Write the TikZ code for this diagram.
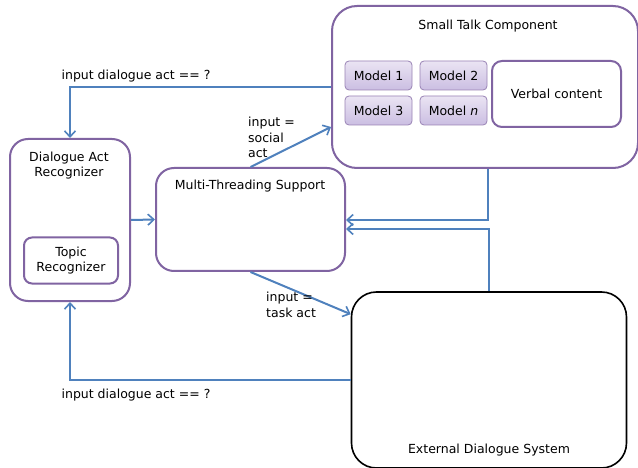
\documentclass[tikz,border=0pt]{standalone}
\usepackage{fontspec}
\setmainfont{DejaVu Sans}
\usetikzlibrary{arrows.meta,calc}
\definecolor{boxpurple}{HTML}{8064A2}
\definecolor{flowblue}{HTML}{4F81BD}
\definecolor{modeltop}{HTML}{EAE4F3}
\definecolor{modelbot}{HTML}{CBBEE2}
\newcommand{\diagfont}{\fontsize{12.5}{15.5}\selectfont}
\tikzset{
  comp/.style={draw=boxpurple, line width=2pt, rounded corners=#1, fill=white},
  comp/.default=18pt,
  extsys/.style={draw=black, line width=1.6pt, rounded corners=25pt, fill=white},
  model/.style={draw=boxpurple!80, line width=0.8pt, rounded corners=4pt,
    top color=modeltop, bottom color=modelbot, minimum width=67pt, minimum height=29pt,
    inner sep=0pt, font=\diagfont},
  lbl/.style={font=\diagfont, inner sep=0pt, align=left},
  title/.style={font=\diagfont, inner sep=0pt, align=center},
  flow/.style={draw=flowblue, line width=2pt, -{Straight Barb[length=6pt,width=11pt,line width=1.6pt]}},
}
\begin{document}
\begin{tikzpicture}[x=1pt,y=-1pt]
\useasboundingbox[fill=white] (0,0) rectangle (638,468);

% Small talk component with its models
\node[comp=25pt, minimum width=306pt, minimum height=162pt] (stc) at (485,87) {};
\node[title] (stctitle) at (488,26.5) {Small Talk Component};
\node[model] (m1) at (378.5,75.5) {Model 1};
\node[model] (m2) at (453.5,75.5) {Model 2};
\node[model] (m3) at (378.5,110.5) {Model 3};
\node[model] (mn) at (453.5,110.5) {Model \textit{n}};
\node[comp=10pt, minimum width=129pt, minimum height=66pt, title] (verbal) at (556.5,94) {Verbal content};

% Dialogue act recognizer
\node[comp, minimum width=120pt, minimum height=162pt] (dar) at (70,220) {};
\node[title] (dartitle) at (69,165.5) {Dialogue Act\\Recognizer};
\node[comp=8pt, minimum width=94pt, minimum height=46pt, title] (topic) at (71,260.5) {Topic\\Recognizer};

% Multi-threading support
\node[comp, minimum width=189pt, minimum height=103pt] (mts) at (250.5,219.5) {};
\node[title] (mtstitle) at (250,186.5) {Multi-Threading Support};

% External dialogue system
\node[extsys, minimum width=275pt, minimum height=176pt] (eds) at (489,380) {};
\node[title] (edstitle) at (489,450.5) {External Dialogue System};

% Connectors
\draw[flow] (stc.west) -| (dar.north);
\node[lbl] (q1) at (136,76.5) {input dialogue act == ?};
\draw[flow] (dar.east) -- (mts.west);
\draw[flow] (mts.north) -- ($(stc.west)+(0,40)$);
\node[lbl, anchor=north west] (social) at (248,117) {input =\\social\\act};
\draw[flow] (mts.south) -- ($(eds.north west)+(0,23)$);
\node[lbl, anchor=north west] (task) at (266,292) {input =\\task act};
\draw[flow] ($(stc.south)+(3,0)$) |- ($(mts.east)+(0,0.5)$);
\draw[flow] (eds.north) |- ($(mts.east)+(0,9.5)$);
\draw[flow] (eds.west) -| (dar.south);
\node[lbl] (q2) at (136,395.5) {input dialogue act == ?};
\end{tikzpicture}
\end{document}
